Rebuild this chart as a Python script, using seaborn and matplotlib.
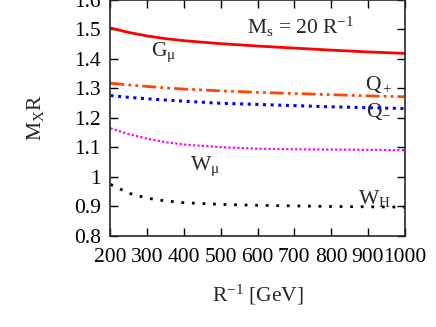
import numpy as np
import pandas as pd
import matplotlib
matplotlib.use("Agg")
import matplotlib.pyplot as plt
import seaborn as sns

# R^-1 values in GeV
r_inv = [200, 250, 300, 350, 400, 500, 600, 700, 800, 900, 1000]

# M_X R for each KK state
g_mu = [1.505, 1.490, 1.478, 1.469, 1.462, 1.452, 1.444, 1.437, 1.430, 1.424, 1.419]
q_plus = [1.318, 1.312, 1.307, 1.302, 1.298, 1.292, 1.287, 1.283, 1.279, 1.275, 1.272]
q_minus = [1.276, 1.270, 1.265, 1.261, 1.257, 1.250, 1.246, 1.242, 1.238, 1.235, 1.232]
w_mu = [1.165, 1.145, 1.130, 1.118, 1.110, 1.101, 1.096, 1.094, 1.093, 1.092, 1.091]
w_h = [0.975, 0.945, 0.928, 0.919, 0.913, 0.907, 0.904, 0.902, 0.900, 0.899, 0.898]

x_ticks = [200, 300, 400, 500, 600, 700, 800, 900, 1000]
y_ticks = [0.8, 0.9, 1.0, 1.1, 1.2, 1.3, 1.4, 1.5, 1.6]
y_tick_labels = ["0.8", "0.9", "1", "1.1", "1.2", "1.3", "1.4", "1.5", "1.6"]

sns.set_style("ticks")
plt.rcParams["font.family"] = ["Liberation Serif", "DejaVu Serif"]
plt.rcParams["mathtext.fontset"] = "custom"
plt.rcParams["mathtext.rm"] = "Liberation Serif"
plt.rcParams["mathtext.it"] = "Liberation Serif:italic"
plt.rcParams["mathtext.bf"] = "Liberation Serif:bold"
fs = 15.5

fig = plt.figure(figsize=(4.36, 3.27), dpi=100)
ax = fig.add_axes([0.2534, 0.2783, 0.6744, 0.7217])

sns.lineplot(x=r_inv, y=g_mu, ax=ax, color="#ff0000", lw=2.0)
sns.lineplot(x=r_inv, y=q_plus, ax=ax, color="#ff4500", lw=2.0,
             linestyle=(0, (5, 1.5, 1, 1.5, 1, 1.5)))
sns.lineplot(x=r_inv, y=q_minus, ax=ax, color="#0000ff", lw=2.2,
             linestyle=(0, (1, 1.5)))
sns.lineplot(x=r_inv, y=w_mu, ax=ax, color="#ff00ff", lw=1.6,
             linestyle=(0, (1, 1)))
sns.lineplot(x=r_inv, y=w_h, ax=ax, color="black", lw=2.0,
             linestyle=(0, (1, 2.8)))

ax.set_xlim(200, 1000)
ax.set_ylim(0.8, 1.6)
ax.set_xticks(x_ticks)
ax.set_yticks(y_ticks)
ax.set_yticklabels(y_tick_labels)
ax.tick_params(direction="in", length=6, width=1, top=True, right=True,
               labelsize=fs, colors="black")
ax.tick_params(axis="x", pad=9)
ax.tick_params(axis="y", pad=7)
for sp in ax.spines.values():
    sp.set_visible(True)
    sp.set_linewidth(1.2)

ax.set_xlabel(r"$\mathrm{R}^{-1}$ [GeV]", fontsize=fs, labelpad=11)
ax.set_ylabel(r"$\mathrm{M}_\mathrm{X}\mathrm{R}$", fontsize=fs, labelpad=20)

ax.text(716, 1.508, r"$\mathrm{M}_\mathrm{s}$ = 20 $\mathrm{R}^{-1}$", ha="center", va="center", fontsize=fs)
ax.text(345, 1.424, r"$\mathrm{G}_\mathrm{μ}$", ha="center", va="center", fontsize=fs)
ax.text(930, 1.315, r"$\mathrm{Q}_+$", ha="center", va="center", fontsize=fs)
ax.text(930, 1.222, r"$\mathrm{Q}_\mathrm{-}$", ha="center", va="center", fontsize=fs)
ax.text(457, 1.038, r"$\mathrm{W}_\mathrm{μ}$", ha="center", va="center", fontsize=fs)
ax.text(918, 0.928, r"$\mathrm{W}_\mathrm{H}$", ha="center", va="center", fontsize=fs)

fig.savefig("out.png", dpi=100)
